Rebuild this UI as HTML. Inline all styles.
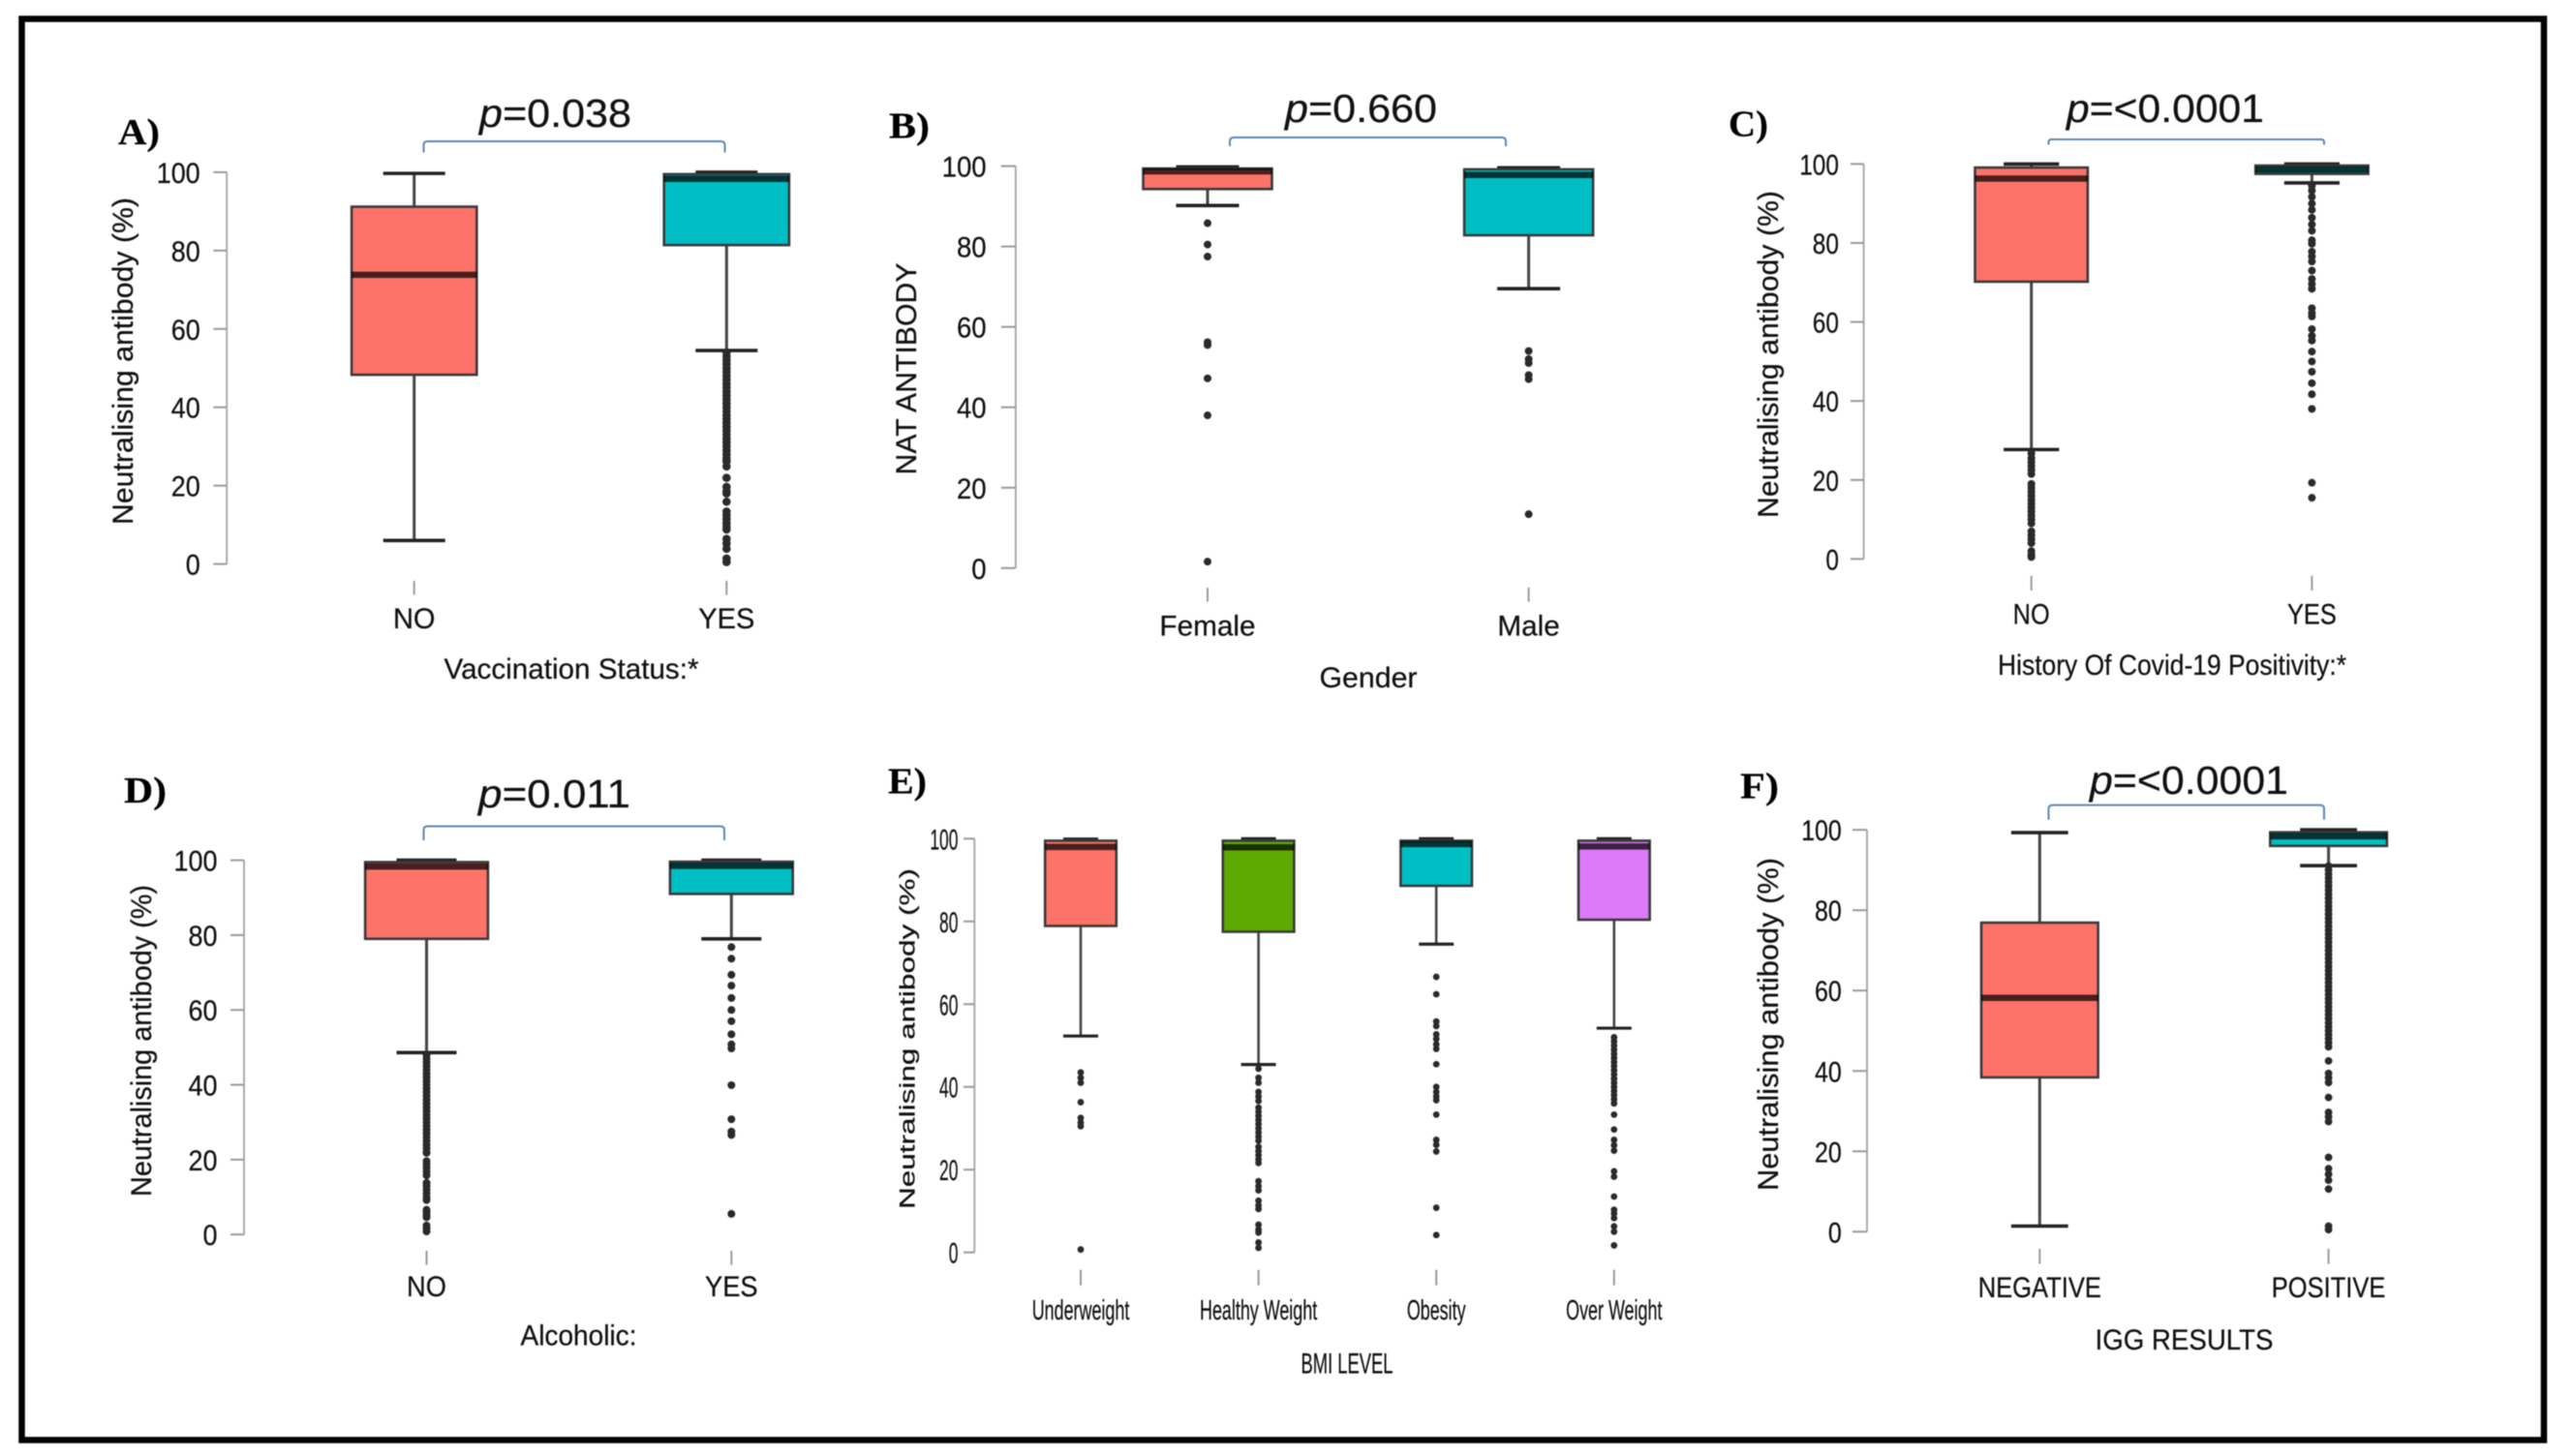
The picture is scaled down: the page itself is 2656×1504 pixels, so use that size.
<!DOCTYPE html>
<html lang="en">
<head>
<meta charset="utf-8">
<title>Neutralising antibody box plots</title>
<style>
html,body{margin:0;padding:0;background:#fff;}
body{width:2656px;height:1504px;overflow:hidden;}
svg{display:block;filter:blur(0.6px);}
text{font-family:"Liberation Sans",sans-serif;fill:#111;stroke:#111;stroke-width:0.25px;}
.lbl{font-family:"Liberation Serif",serif;font-weight:bold;font-size:38px;fill:#000;}
.pv{font-size:41px;fill:#111;}
.ttl{font-size:30px;}
.brk{fill:none;stroke:#5b86b5;stroke-width:2;}
</style>
</head>
<body>
<svg id="figure" xmlns="http://www.w3.org/2000/svg" width="2656" height="1504" viewBox="0 0 2656 1504">
  <rect x="0" y="0" width="2656" height="1504" fill="#fff"/>
  <rect x="22.5" y="19.5" width="2604.5" height="1468" fill="#fff" stroke="#000" stroke-width="6.5"/>

  <g id="panel-a">
    <text class="lbl" x="122" y="149" textLength="43" lengthAdjust="spacingAndGlyphs">A)</text>
    <text class="pv" x="495" y="131" textLength="157" lengthAdjust="spacingAndGlyphs"><tspan font-style="italic">p</tspan>=0.038</text>
    <path class="brk" d="M437.5 157.5V150Q437.5 146 441.5 146H744.5Q748.5 146 748.5 150V157.5"/>
    <text class="ttl" x="590" y="701" text-anchor="middle" textLength="263" lengthAdjust="spacingAndGlyphs">Vaccination Status:*</text>
    <text class="ttl" x="137" y="373" text-anchor="middle" textLength="338" lengthAdjust="spacingAndGlyphs" transform="rotate(-90 137 373)">Neutralising antibody (%)</text>
  </g>

  <g id="panel-b">
    <text class="lbl" x="918" y="142.5" textLength="42" lengthAdjust="spacingAndGlyphs">B)</text>
    <text class="pv" x="1327" y="126" textLength="157" lengthAdjust="spacingAndGlyphs"><tspan font-style="italic">p</tspan>=0.660</text>
    <path class="brk" d="M1270 151V146Q1270 142 1274 142H1551Q1555 142 1555 146V151"/>
    <text class="ttl" x="1413" y="710" text-anchor="middle" textLength="101" lengthAdjust="spacingAndGlyphs">Gender</text>
    <text class="ttl" x="946" y="381" text-anchor="middle" textLength="219" lengthAdjust="spacingAndGlyphs" transform="rotate(-90 946 381)">NAT ANTIBODY</text>
  </g>

  <g id="panel-c">
    <text class="lbl" x="1785" y="140.7" textLength="41" lengthAdjust="spacingAndGlyphs">C)</text>
    <text class="pv" x="2134" y="126" textLength="204" lengthAdjust="spacingAndGlyphs"><tspan font-style="italic">p</tspan>=&lt;0.0001</text>
    <path class="brk" d="M2115.5 149.5V147Q2115.5 144 2118.5 144H2397Q2400 144 2400 147V149.5"/>
    <text class="ttl" x="2243" y="697" text-anchor="middle" textLength="360" lengthAdjust="spacingAndGlyphs">History Of Covid-19 Positivity:*</text>
    <text class="ttl" x="1836" y="366" text-anchor="middle" textLength="338" lengthAdjust="spacingAndGlyphs" transform="rotate(-90 1836 366)">Neutralising antibody (%)</text>
  </g>

  <g id="panel-d">
    <text class="lbl" x="128" y="829" textLength="44" lengthAdjust="spacingAndGlyphs">D)</text>
    <text class="pv" x="494" y="834" textLength="157" lengthAdjust="spacingAndGlyphs"><tspan font-style="italic">p</tspan>=0.011</text>
    <path class="brk" d="M437.5 868V857.5Q437.5 853.5 441.5 853.5H744Q748 853.5 748 857.5V868"/>
    <text class="ttl" x="597.5" y="1389.5" text-anchor="middle" textLength="120" lengthAdjust="spacingAndGlyphs">Alcoholic:</text>
    <text class="ttl" x="156" y="1075" text-anchor="middle" textLength="322" lengthAdjust="spacingAndGlyphs" transform="rotate(-90 156 1075)">Neutralising antibody (%)</text>
  </g>

  <g id="panel-e">
    <text class="lbl" x="917" y="819.7" textLength="40" lengthAdjust="spacingAndGlyphs">E)</text>
    <text class="ttl" x="1391" y="1418.4" text-anchor="middle" textLength="95" lengthAdjust="spacingAndGlyphs">BMI LEVEL</text>
    <text font-size="22" x="944.5" y="1073" text-anchor="middle" textLength="352" lengthAdjust="spacingAndGlyphs" transform="rotate(-90 944.5 1073)">Neutralising antibody (%)</text>
  </g>

  <g id="panel-f">
    <text class="lbl" x="1797" y="824.5" textLength="40" lengthAdjust="spacingAndGlyphs">F)</text>
    <text class="pv" x="2158" y="820" textLength="205" lengthAdjust="spacingAndGlyphs"><tspan font-style="italic">p</tspan>=&lt;0.0001</text>
    <path class="brk" d="M2115.5 846.8V835.6Q2115.5 831.6 2119.5 831.6H2396Q2400 831.6 2400 835.6V846.8"/>
    <text class="ttl" x="2255.5" y="1393.8" text-anchor="middle" textLength="184" lengthAdjust="spacingAndGlyphs">IGG RESULTS</text>
    <text class="ttl" x="1836" y="1058" text-anchor="middle" textLength="344" lengthAdjust="spacingAndGlyphs" transform="rotate(-90 1836 1058)">Neutralising antibody (%)</text>
  </g>
</svg>

<script>
// ---------- chart data ----------
const yTickValues = [0, 20, 40, 60, 80, 100];

const panelACategories = ['NO', 'YES'];
const panelALow = [6, 54.5];
const panelAQ1 = [48.3, 81.4];
const panelAMedian = [73.8, 98.3];
const panelAQ3 = [91.2, 99.5];
const panelAHigh = [99.7, 100];
const panelAOutliers = [
  [],
  [54, 53, 52, 51, 50, 49, 48, 47, 46, 45, 44, 43, 42, 41, 40, 39, 38, 37, 36, 35, 34, 33, 32, 31, 30, 29, 28, 27, 26.2, 24.9, 22, 19.7, 18.6, 18, 15.9, 13.4, 12.4, 11.4, 10.4, 9.6, 8.8, 6.4, 5.2, 3.9, 1.4, 0.5]
];

const panelBCategories = ['Female', 'Male'];
const panelBLow = [90.2, 69.5];
const panelBQ1 = [94.3, 82.8];
const panelBMedian = [98.7, 97.8];
const panelBQ3 = [99.4, 99.2];
const panelBHigh = [99.8, 99.6];
const panelBOutliers = [
  [85.8, 80.5, 77.5, 56.2, 55.5, 47.2, 38, 1.6],
  [54, 52, 51, 48, 47, 13.4]
];

const panelCCategories = ['NO', 'YES'];
const panelCLow = [27.7, 95.2];
const panelCQ1 = [70.2, 97.5];
const panelCMedian = [96.3, 98.6];
const panelCQ3 = [99.1, 99.6];
const panelCHigh = [100, 100];
const panelCOutliers = [
  [26.7, 25.5, 24.5, 23.5, 22.5, 21.5, 19, 18, 17, 16, 15, 14, 13, 12, 11, 10, 9, 7, 6, 5, 4, 2, 1, 0.5],
  [94.5, 93.3, 91.7, 90, 88.4, 86.4, 84.7, 83.1, 80.7, 79.8, 77.8, 76.6, 75.3, 73, 70.9, 69.6, 68.4, 63.5, 62.3, 61.4, 58.2, 56.5, 55.3, 52.5, 50, 47.4, 44.5, 41.7, 38, 19.3, 15.5]
];

const panelDCategories = ['NO', 'YES'];
const panelDLow = [48.6, 79];
const panelDQ1 = [79, 91];
const panelDMedian = [98.3, 98.5];
const panelDQ3 = [99.5, 99.6];
const panelDHigh = [100, 100];
const panelDOutliers = [
  [48, 47, 46, 45, 44, 43, 42, 41, 40, 39, 38, 37, 36, 35, 34, 33, 32, 31, 30, 29, 28, 27, 26, 25, 24, 23, 22, 21.8, 19.6, 18.8, 17.8, 16.8, 15.8, 13.8, 13, 12, 11, 10, 9.2, 6.6, 6, 5.2, 4.6, 2.4, 1.6, 0.8],
  [76.8, 73.7, 69.4, 66.5, 63.2, 60, 57, 53.5, 50.8, 49.7, 39.9, 30.8, 27.5, 26.6, 5.5]
];

const panelECategories = ['Underweight', 'Healthy Weight', 'Obesity', 'Over Weight'];
const panelELow = [52.3, 45.4, 74.5, 54.2];
const panelEQ1 = [78.9, 77.5, 88.6, 80.4];
const panelEMedian = [98, 97.9, 98.7, 98.1];
const panelEQ3 = [99.5, 99.5, 99.5, 99.5];
const panelEHigh = [99.9, 100, 100, 100];
const panelEOutliers = [
  [43.5, 42.2, 41, 36.3, 32.5, 31.4, 30.5, 0.7],
  [44.4, 42.2, 41, 38.8, 37.7, 36.6, 35, 34, 33, 32, 31, 30, 29, 28, 27, 25.5, 24.5, 23.5, 22.5, 21.6, 17.2, 16, 15, 12.5, 11.4, 10.5, 6.7, 5.5, 4.8, 2.4, 1.1],
  [66.6, 62.4, 55.8, 54.7, 52.7, 51.6, 50.3, 49.2, 45.5, 40, 38.8, 37.7, 36.8, 33.3, 27.2, 26, 24.4, 10.8, 4.2],
  [52, 51, 50, 49, 48, 47, 46, 45, 44, 43, 42, 41, 40, 39, 38, 37, 36, 33.3, 29.7, 27.2, 25.9, 24.6, 19.6, 18.3, 13.5, 10.3, 9.4, 8.3, 6.3, 5, 1.7]
];

const panelFCategories = ['NEGATIVE', 'POSITIVE'];
const panelFLow = [1.4, 91.1];
const panelFQ1 = [38.4, 96];
const panelFMedian = [58.2, 98.4];
const panelFQ3 = [76.9, 99.4];
const panelFHigh = [99.3, 100];
const panelFOutliers = [
  [],
  [91, 90, 89, 88, 87, 86, 85, 84, 83, 82, 81, 80, 79, 78, 77, 76, 75, 74, 73, 72, 71, 70, 69, 68, 67, 66, 65, 64, 63, 62, 61, 60, 59, 58, 57, 56, 55, 54, 53, 52, 51, 50, 49, 48, 47, 46, 42.5, 39.4, 38.3, 37.1, 33.4, 29.7, 28.6, 27.4, 18.5, 15.7, 14.3, 12.8, 10.6, 1.4, 0.5]
];

// ---------- layout and style ----------
const RED = '#fd7269', TEAL = '#00bfc4', GREEN = '#5dab00', PURPLE = '#dc7af9';
const layouts = {
  a: {axisX: 234.2, tickX: 220.4, yTop: 177.9, yBottom: 582.6, firstX: 427.7, stepX: 322.6, boxHalf: 64.6, capHalf: 32,
      xTickTop: 600, xTickBottom: 614.6, xLabelY: 649, xStretch: 1, yLabelX: 206.7, yStretch: 0.93, fills: [RED, TEAL], dotR: 4.3, lineW: 3},
  b: {axisX: 1048.9, tickX: 1033.8, yTop: 171.6, yBottom: 586.8, firstX: 1247, stepX: 331.6, boxHalf: 66.5, capHalf: 32.5,
      xTickTop: 607, xTickBottom: 621.6, xLabelY: 656.5, xStretch: 1.025, yLabelX: 1018.6, yStretch: 0.95, fills: [RED, TEAL], dotR: 4, lineW: 3},
  c: {axisX: 1924.6, tickX: 1910.9, yTop: 169.4, yBottom: 577.4, firstX: 2097.7, stepX: 289.7, boxHalf: 58.2, capHalf: 28.6,
      xTickTop: 594.8, xTickBottom: 610, xLabelY: 644.5, xStretch: 0.875, yLabelX: 1898.9, yStretch: 0.84, fills: [RED, TEAL], dotR: 4, lineW: 3},
  d: {axisX: 252, tickX: 238, yTop: 888.6, yBottom: 1275.2, firstX: 440.5, stepX: 314.8, boxHalf: 63.4, capHalf: 31,
      xTickTop: 1292, xTickBottom: 1306.5, xLabelY: 1339, xStretch: 0.94, yLabelX: 224.5, yStretch: 0.93, fills: [RED, TEAL], dotR: 4, lineW: 3},
  e: {axisX: 1006.3, tickX: 995, yTop: 866.3, yBottom: 1293.7, firstX: 1116, stepX: 183.6, boxHalf: 36.8, capHalf: 18,
      xTickTop: 1311.7, xTickBottom: 1327.8, xLabelY: 1363, xStretch: 0.64, yLabelX: 989.4, yStretch: 0.6, fills: [RED, GREEN, TEAL, PURPLE], dotR: 3.4, lineW: 2.6},
  f: {axisX: 1928, tickX: 1913, yTop: 857.2, yBottom: 1272.3, firstX: 2106.3, stepX: 298.3, boxHalf: 60.3, capHalf: 29.4,
      xTickTop: 1290, xTickBottom: 1305.5, xLabelY: 1340, xStretch: 0.88, yLabelX: 1901.7, yStretch: 0.86, fills: [RED, TEAL], dotR: 3.9, lineW: 3}
};

const panels = [
  {id: 'a', categories: panelACategories, low: panelALow, q1: panelAQ1, median: panelAMedian, q3: panelAQ3, high: panelAHigh, outliers: panelAOutliers},
  {id: 'b', categories: panelBCategories, low: panelBLow, q1: panelBQ1, median: panelBMedian, q3: panelBQ3, high: panelBHigh, outliers: panelBOutliers},
  {id: 'c', categories: panelCCategories, low: panelCLow, q1: panelCQ1, median: panelCMedian, q3: panelCQ3, high: panelCHigh, outliers: panelCOutliers},
  {id: 'd', categories: panelDCategories, low: panelDLow, q1: panelDQ1, median: panelDMedian, q3: panelDQ3, high: panelDHigh, outliers: panelDOutliers},
  {id: 'e', categories: panelECategories, low: panelELow, q1: panelEQ1, median: panelEMedian, q3: panelEQ3, high: panelEHigh, outliers: panelEOutliers},
  {id: 'f', categories: panelFCategories, low: panelFLow, q1: panelFQ1, median: panelFMedian, q3: panelFQ3, high: panelFHigh, outliers: panelFOutliers}
];

// ---------- drawing ----------
const NS = 'http://www.w3.org/2000/svg';
function make(parent, tag, props) {
  const el = document.createElementNS(NS, tag);
  for (const k in props) el.setAttribute(k, props[k]);
  parent.appendChild(el);
  return el;
}
function stretchText(el, factor) {
  const natural = el.getComputedTextLength();
  el.setAttribute('textLength', natural * factor);
  el.setAttribute('lengthAdjust', 'spacingAndGlyphs');
}

function drawPanel(p) {
  const L = layouts[p.id];
  const group = document.getElementById('panel-' + p.id);
  const yScale = v => L.yBottom - (v / 100) * (L.yBottom - L.yTop);
  const xScale = i => L.firstX + i * L.stepX;

  // y axis
  const axisLine = make(group, 'line', {x1: L.axisX, x2: L.axisX, y1: yScale(yTickValues[yTickValues.length - 1]), y2: yScale(yTickValues[0]), stroke: '#aaa', 'stroke-width': 2});
  
  

  yTickValues.forEach(v => {
    const tick = make(group, 'line', {x1: L.tickX, x2: L.axisX, y1: yScale(v), y2: yScale(v), stroke: '#999', 'stroke-width': 2});
    
    
    const label = make(group, 'text', {x: L.yLabelX, y: yScale(v) + 11, 'text-anchor': 'end', 'font-size': 30});
    
    
    label.textContent = v;
    stretchText(label, L.yStretch * 29 / 30);
  });

  // categories
  p.categories.forEach((cat, i) => {
    const x = xScale(i);
    const fill = L.fills[i];

    const xTick = make(group, 'line', {x1: x, x2: x, y1: L.xTickTop, y2: L.xTickBottom, stroke: '#999', 'stroke-width': 2});
    
    

    const xLabel = make(group, 'text', {x: x, y: L.xLabelY, 'text-anchor': 'middle', 'font-size': p.id === 'e' ? 29 : 30});
    
    
    xLabel.textContent = cat;
    stretchText(xLabel, L.xStretch * (p.id === 'e' ? 28 / 29 : 29 / 30));

    const whisker = make(group, 'line', {x1: x, x2: x, y1: yScale(p.high[i]), y2: yScale(p.low[i]), stroke: '#444', 'stroke-width': L.lineW});
    
    

    [p.high[i], p.low[i]].forEach(v => {
      const cap = make(group, 'line', {x1: x - L.capHalf, x2: x + L.capHalf, y1: yScale(v), y2: yScale(v), stroke: '#222', 'stroke-width': L.lineW + 0.6});
      
      
    });

    p.outliers[i].forEach(v => {
      const dot = make(group, 'circle', {cx: x, cy: yScale(v), r: L.dotR, fill: '#2a2a2a'});
      
      
    });

    const box = make(group, 'rect', {x: x - L.boxHalf, y: yScale(p.q3[i]), width: 2 * L.boxHalf, height: yScale(p.q1[i]) - yScale(p.q3[i]), fill: fill, stroke: '#3a3a3a', 'stroke-width': 2.6});
    
    

    const medianLine = make(group, 'line', {x1: x - L.boxHalf, x2: x + L.boxHalf, y1: yScale(p.median[i]), y2: yScale(p.median[i]), stroke: '#000', 'stroke-opacity': 0.72, 'stroke-width': 6.5});
    
    
  });
}

panels.forEach(drawPanel);
</script>
</body>
</html>
